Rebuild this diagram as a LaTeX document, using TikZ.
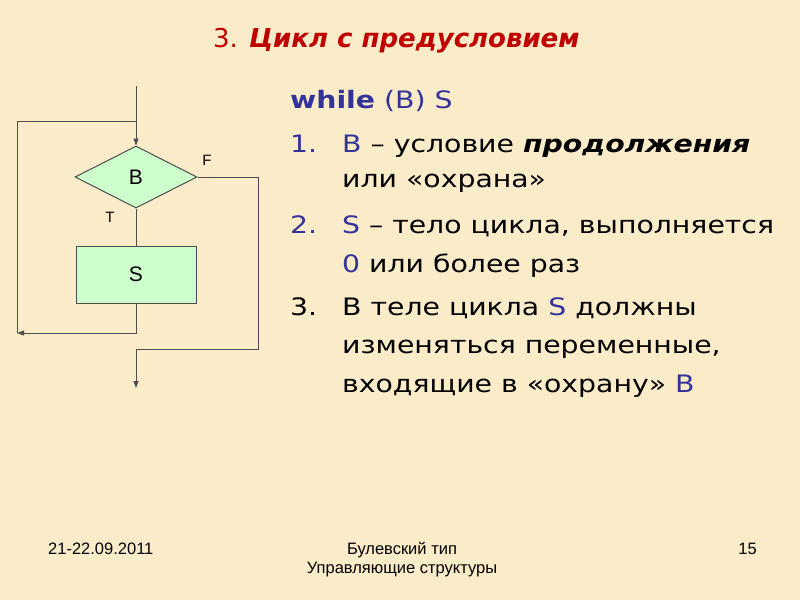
\documentclass[tikz,border=0pt]{standalone}
\usepackage{fontspec}
\setmainfont{DejaVu Sans}
\newfontfamily\bodyf[FakeStretch=1.18]{DejaVu Sans}
\newfontfamily\arialf{Liberation Sans}
\usetikzlibrary{shapes.geometric,arrows.meta}
\definecolor{bg}{HTML}{FAEBC9}
\definecolor{boxfill}{HTML}{CCFFCC}
\definecolor{linec}{HTML}{4D4D4D}
\definecolor{kwblue}{HTML}{333399}
\definecolor{titlered}{HTML}{C00000}
\newcommand{\bfs}{\bodyf\fontsize{24}{24}\selectfont}
\newcommand{\kb}[1]{\textcolor{kwblue}{#1}}
\begin{document}
\begin{tikzpicture}[x=1pt,y=-1pt,
  flow/.style={draw=linec,line width=1pt},
  arr/.style={flow,-{Triangle[length=7pt,width=5pt]}},
  dec/.style={diamond,draw=linec,line width=1pt,fill=boxfill,minimum width=122pt,minimum height=62pt,inner sep=0pt,font=\arialf\fontsize{21}{21}\selectfont},
  proc/.style={rectangle,draw=linec,line width=1pt,fill=boxfill,minimum width=120pt,minimum height=57pt,inner sep=0pt,font=\arialf\fontsize{21}{21}\selectfont},
  lbl/.style={font=\arialf\fontsize{15}{15}\selectfont},
  body/.style={anchor=base west,inner sep=0pt,font=\bfs},
  foot/.style={inner sep=0pt,font=\arialf\fontsize{16.5}{16.5}\selectfont}]
\fill[bg] (0,0) rectangle (800,600);
\useasboundingbox (0,0) rectangle (800,600);

% title
\node[anchor=base west,inner sep=0pt,text=titlered,font=\fontsize{26}{26}\selectfont] (title) at (213,47) {3. \textbf{\itshape Цикл с предусловием}};

% flowchart
\node[dec] (d) at (136,177) {B};
\node[proc] (s) at (136,274.5) {S};
\coordinate (top) at (136,86);
\coordinate (jn) at (136,121);
\coordinate (lt) at (17,121);
\coordinate (lb) at (17,333);
\coordinate (sb) at (136,333);
\coordinate (rt) at (258,177);
\coordinate (mb) at (136,349);
\coordinate (endp) at (136,388);
\draw[arr] (top) -- (d.north);
\draw[flow] (d.south) -- (s.north);
\draw[arr] (s.south) -- (sb) -- (lb);
\draw[flow] (lb) -- (lt) -- (jn);
\draw[arr] (d.east) -- (rt) |- (mb) -- (endp);
\node[lbl] (F) at (207,160) {F};
\node[lbl] (T) at (110,217) {T};

% text
\node[body] (w) at (290,108) {\textcolor{kwblue}{\textbf{while} (B) S}};
\node[body] (n1) at (290,152) {\kb{1.}};
\node[body] (t1) at (342,152) {\kb{B} – условие \textbf{\itshape продолжения}};
\node[body] (t1b) at (342,187) {или «охрана»};
\node[body] (n2) at (290,233) {\kb{2.}};
\node[body] (t2) at (342,233) {\kb{S} – тело цикла, выполняется};
\node[body] (t2b) at (342,272) {\kb{0} или более раз};
\node[body] (n3) at (290,315) {3.};
\node[body] (t3) at (342,315) {В теле цикла \kb{S} должны};
\node[body] (t3b) at (342,353) {изменяться переменные,};
\node[body] (t3c) at (342,392) {входящие в «охрану» \kb{B}};

% footer
\node[foot,anchor=base west] (date) at (48,554) {21-22.09.2011};
\node[foot,anchor=base] (f1) at (402,554) {Булевский тип};
\node[foot,anchor=base] (f2) at (402,573) {Управляющие структуры};
\node[foot,anchor=base east] (pg) at (757,554) {15};
\end{tikzpicture}
\end{document}
